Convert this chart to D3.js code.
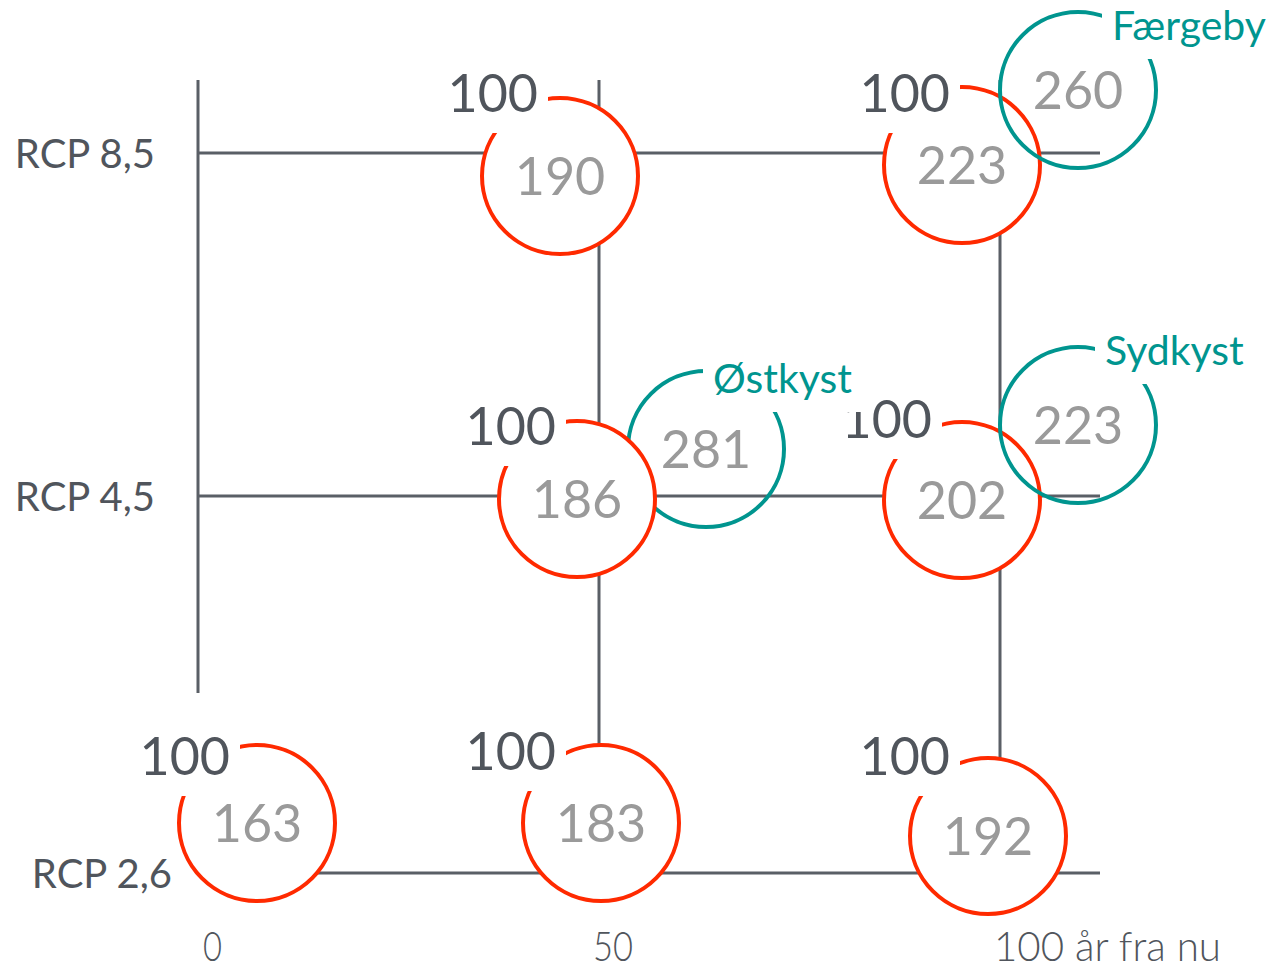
<!DOCTYPE html>
<html>
<head>
<meta charset="utf-8">
<script src="https://cdn.jsdelivr.net/npm/d3@7"></script>
<style>
  body { margin: 0; background: #fff; }
  text { font-family: Lato, "Open Sans", sans-serif; }
</style>
</head>
<body>
<script>
// scenarios and years
var scenarios = ["RCP 8,5", "RCP 4,5", "RCP 2,6"];
var years = [0, 50, 100];
var yearLabels = ["0", "50", "100 år fra nu"];

// red circles: value per scenario/year, all relative to 100 today
var redScenario = ["RCP 8,5", "RCP 8,5", "RCP 4,5", "RCP 4,5", "RCP 2,6", "RCP 2,6", "RCP 2,6"];
var redYear     = [50, 100, 50, 100, 0, 50, 100];
var redValue    = [190, 223, 186, 202, 163, 183, 192];
var baseValue   = 100;

// teal circles: local sites
var siteName     = ["Østkyst", "Færgeby", "Sydkyst"];
var siteScenario = ["RCP 4,5", "RCP 8,5", "RCP 4,5"];
var siteYear     = [50, 100, 100];
var siteValue    = [281, 260, 223];

// layout nudges (pixels) so circles do not sit on top of each other
var redNudge  = [[-39, 23], [-38, 12], [-22, 3], [-38, 4], [59, -50], [2, -50], [-12, -37]];
var baseNudge = [[-22, -64], [-12, -53], [-21, -54], [-30, -62], [-27, -48], [-45, -53], [-38, -61]];
var siteNudge = [[107, -47], [78, -63], [78, -71]];
var siteLabelNudge = [[7, -56], [34, -50], [27, -60]];

var W = 1280, H = 971, R = 78;
var red = "#ff2a00", teal = "#00958f", grid = "#5a5f66", dark = "#50555c", grey = "#9a9a9a";

var svg = d3.select("body").append("svg")
  .attr("width", W)
  .attr("height", H);

var x = d3.scaleLinear().domain([0, 100]).range([198, 1000]);
// rows are categorical but not evenly spaced
var y = d3.scaleOrdinal().domain(scenarios).range([153, 496, 873]);

// grid
var g = svg.append("g");
scenarios.forEach(function(s) {
  g.append("line")
    .attr("x1", x(0)).attr("x2", x(100) + 100)
    .attr("y1", y(s)).attr("y2", y(s))
    .attr("stroke", grid).attr("stroke-width", 3);
});
years.forEach(function(v) {
  g.append("line")
    .attr("x1", x(v)).attr("x2", x(v))
    .attr("y1", y("RCP 8,5") - 73)
    .attr("y2", v == 0 ? y("RCP 4,5") + 197 : y("RCP 2,6"))
    .attr("stroke", grid).attr("stroke-width", 3);
});

// row labels
svg.selectAll(".rowlab")
  .data(scenarios)
  .enter().append("text")
  .attr("class", "rowlab")
  .attr("x", function(d, i) { return i == 2 ? 172 : 155; })
  .attr("y", function(d) { return y(d) + 15; })
  .attr("text-anchor", "end")
  .attr("font-size", 40)
  .attr("fill", dark)
  .text(function(d) { return d; });

// column labels
svg.selectAll(".collab")
  .data(years)
  .enter().append("text")
  .attr("class", "collab")
  .attr("x", function(d) { return d == 0 ? x(d) + 5 : x(d) - 6; })
  .attr("y", 961)
  .attr("font-size", 41)
  .attr("font-weight", 300)
  .attr("fill", dark)
  .attr("textLength", function(d, i) { return [19, 40, 227][i]; })
  .attr("lengthAdjust", "spacingAndGlyphs")
  .text(function(d, i) { return yearLabels[i]; });

function drawCircle(cx, cy, color, fill, val) {
  svg.append("circle")
    .attr("cx", cx).attr("cy", cy).attr("r", R)
    .attr("fill", fill)
    .attr("stroke", color).attr("stroke-width", 4);
  svg.append("text")
    .attr("x", cx).attr("y", cy)
    .attr("dy", "0.36em")
    .attr("text-anchor", "middle")
    .attr("font-size", 52)
    .attr("fill", grey)
    .text(val);
}

function boxedText(tx, ty, anchor, size, color, str) {
  var grp = svg.append("g");
  var rect = grp.append("rect").attr("fill", "#fff");
  var t = grp.append("text")
    .attr("x", tx).attr("y", ty)
    .attr("text-anchor", anchor)
    .attr("font-size", size)
    .attr("fill", color)
    .text(str);
  var b = t.node().getBBox();
  rect.attr("x", b.x - 10).attr("y", b.y - 10)
    .attr("width", b.width + 20).attr("height", b.height + 20);
}

// Østkyst sits under the red circle
drawCircle(x(siteYear[0]) + siteNudge[0][0], y(siteScenario[0]) + siteNudge[0][1], teal, "none", siteValue[0]);

// red circles
var redPos = redValue.map(function(v, i) {
  return [x(redYear[i]) + redNudge[i][0], y(redScenario[i]) + redNudge[i][1]];
});
redValue.forEach(function(v, i) {
  drawCircle(redPos[i][0], redPos[i][1], red, "#fff", v);
});

// "100" base labels
redValue.forEach(function(v, i) {
  boxedText(redPos[i][0] + baseNudge[i][0], redPos[i][1] + baseNudge[i][1], "end", 52, dark, baseValue);
});

// other teal circles
var sitePos = siteValue.map(function(v, i) {
  return [x(siteYear[i]) + siteNudge[i][0], y(siteScenario[i]) + siteNudge[i][1]];
});
[1, 2].forEach(function(i) {
  drawCircle(sitePos[i][0], sitePos[i][1], teal, "none", siteValue[i]);
});

// site labels
siteName.forEach(function(n, i) {
  boxedText(sitePos[i][0] + siteLabelNudge[i][0], sitePos[i][1] + siteLabelNudge[i][1], "start", 41, teal, n);
});
</script>
</body>
</html>
